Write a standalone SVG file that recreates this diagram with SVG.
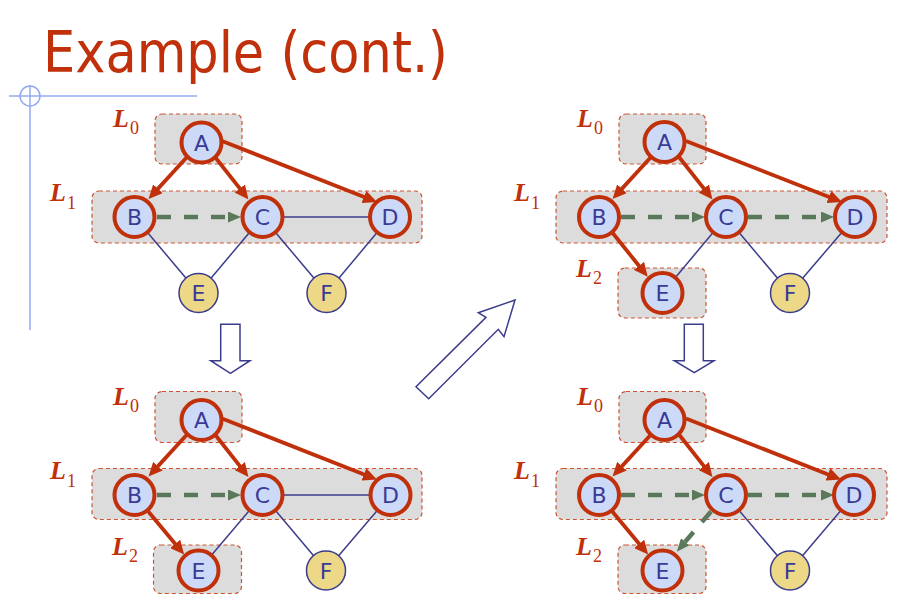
<svg xmlns="http://www.w3.org/2000/svg" width="901" height="602" viewBox="0 0 901 602">
  <defs>
    <style>
      .title { font-family: "DejaVu Sans", Verdana, sans-serif; font-size: 57px; fill: #c0300a; }
      .guide { stroke: #92aaf2; stroke-width: 1.5; fill: none; }
      .level { fill: #dcdcdc; stroke: #cc5530; stroke-width: 1.2; stroke-dasharray: 4 3; }
      .L { font-family: "Liberation Serif", "Times New Roman", serif; fill: #c0300a; font-size: 26px; font-weight: bold; font-style: italic; }
      .sub { font-family: "Liberation Serif", "Times New Roman", serif; fill: #c0300a; font-size: 18px; }
      .tree { stroke: #c0300a; stroke-width: 3.8; fill: none; marker-end: url(#redHead); }
      .cross { stroke: #5a785a; stroke-width: 4.5; fill: none; stroke-dasharray: 14 13; marker-end: url(#greenHead); }
      .plain { stroke: #3c3c8c; stroke-width: 1.5; fill: none; }
      .visited circle { fill: #ccdaf8; stroke: #c0300a; stroke-width: 4; }
      .fresh circle { fill: #ecd886; stroke: #3c3c8c; stroke-width: 1.5; }
      .node text { font-family: "DejaVu Sans", Verdana, sans-serif; font-size: 22px; fill: #3a3a96; text-anchor: middle; }
      .step { fill: #ffffff; stroke: #3c3c8c; stroke-width: 1.5; stroke-linejoin: miter; }
    </style>
    <marker id="redHead" markerUnits="userSpaceOnUse" markerWidth="14" markerHeight="13" refX="5" refY="6.5" orient="auto">
      <path d="M0,0 L14,6.5 L0,13 z" fill="#c0300a"/>
    </marker>
    <marker id="greenHead" markerUnits="userSpaceOnUse" markerWidth="13" markerHeight="11" refX="0" refY="5.5" orient="auto">
      <path d="M0,0 L13,5.5 L0,11 z" fill="#5a785a"/>
    </marker>
  </defs>

  <rect width="901" height="602" fill="#ffffff"/>

  <!-- heading -->
  <text class="title" x="43" y="72" textLength="405" lengthAdjust="spacingAndGlyphs">Example (cont.)</text>

  <!-- corner guide -->
  <g class="guide">
    <line x1="9" y1="96" x2="197" y2="96"/>
    <line x1="30" y1="85" x2="30" y2="330"/>
    <circle cx="30" cy="96" r="10"/>
  </g>

  <!-- step arrows between panels -->
  <polygon class="step" points="220.7,324.3 240,324.3 240,360.7 250,360.7 230.4,373.3 210.7,360.7 220.7,360.7"/>
  <polygon class="step" points="684.3,324.3 703.3,324.3 703.3,360.7 714,360.7 694.3,372.7 674.3,360.7 684.3,360.7"/>
  <polygon class="step" points="515,300 504,336.7 498.3,329.3 428.7,398.7 416,386.7 486,317.3 478.3,312.7"/>

  <!-- panel 1: L0, L1 -->
  <g id="panel1">
    <rect class="level" x="155" y="114" width="87" height="50" rx="7"/>
    <rect class="level" x="92" y="191" width="330" height="52" rx="7"/>
    <text class="L" x="113" y="127">L</text>
    <text class="sub" x="130" y="134">0</text>
    <text class="L" x="50" y="201">L</text>
    <text class="sub" x="67" y="209">1</text>
    <g id="edges1">
      <line class="plain" x1="134.5" y1="217" x2="198.5" y2="293"/>
      <line class="plain" x1="262.5" y1="217" x2="198.5" y2="293"/>
      <line class="plain" x1="262.5" y1="217" x2="326.5" y2="293"/>
      <line class="plain" x1="390" y1="217" x2="326.5" y2="293"/>
      <line class="plain" x1="262.5" y1="217" x2="390" y2="217"/>
      <path class="tree" d="M187,157 L154.6,192.4"/>
      <path class="tree" d="M215,157 L242.9,192.4"/>
      <path class="tree" d="M222,141 L368.6,198.7"/>
      <path class="cross" d="M157,217 L228,217"/>
    </g>
    <g id="p1-A" class="node visited"><circle cx="201.5" cy="142.5" r="20"/><text x="201.5" y="150.5">A</text></g>
    <g id="p1-B" class="node visited"><circle cx="134.5" cy="217" r="20"/><text x="134.5" y="225">B</text></g>
    <g id="p1-C" class="node visited"><circle cx="262.5" cy="217" r="20"/><text x="262.5" y="225">C</text></g>
    <g id="p1-D" class="node visited"><circle cx="390" cy="217" r="20"/><text x="390" y="225">D</text></g>
    <g id="p1-E" class="node fresh"><circle cx="198.5" cy="293" r="19.5"/><text x="198.5" y="301">E</text></g>
    <g id="p1-F" class="node fresh"><circle cx="326.5" cy="293" r="19.5"/><text x="326.5" y="301">F</text></g>
  </g>

  <!-- panel 2: B finished, C -> D checked -->
  <g id="panel2" transform="translate(464,0)">
    <rect class="level" x="155" y="114" width="87" height="50" rx="7"/>
    <rect class="level" x="92" y="191" width="331" height="52" rx="7"/>
    <rect class="level" x="154" y="268" width="88" height="50" rx="7"/>
    <text class="L" x="113" y="127">L</text>
    <text class="sub" x="130" y="134">0</text>
    <text class="L" x="50" y="201">L</text>
    <text class="sub" x="67" y="209">1</text>
    <text class="L" x="112" y="277">L</text>
    <text class="sub" x="129" y="284">2</text>
    <g id="edges2">
      <line class="plain" x1="262" y1="217" x2="198.5" y2="293"/>
      <line class="plain" x1="262" y1="217" x2="326" y2="293"/>
      <line class="plain" x1="391" y1="217" x2="326" y2="293"/>
      <path class="tree" d="M187,157 L154.6,192.4"/>
      <path class="tree" d="M215,157 L242.9,192.4"/>
      <path class="tree" d="M222,141 L369.6,198.7"/>
      <path class="tree" d="M147.7,231.7 L178.1,269.7"/>
      <path class="cross" d="M157,217 L228,217"/>
      <path class="cross" d="M284,217 L357,217"/>
    </g>
    <g id="p2-A" class="node visited"><circle cx="200.5" cy="142" r="20"/><text x="200.5" y="150">A</text></g>
    <g id="p2-B" class="node visited"><circle cx="135" cy="217" r="20"/><text x="135" y="225">B</text></g>
    <g id="p2-C" class="node visited"><circle cx="262" cy="217" r="20"/><text x="262" y="225">C</text></g>
    <g id="p2-D" class="node visited"><circle cx="391" cy="217" r="20"/><text x="391" y="225">D</text></g>
    <g id="p2-E" class="node visited"><circle cx="198.5" cy="293" r="20"/><text x="198.5" y="301">E</text></g>
    <g id="p2-F" class="node fresh"><circle cx="326" cy="293" r="19.5"/><text x="326" y="301">F</text></g>
  </g>

  <!-- panel 3: B -> E discovered -->
  <g id="panel3" transform="translate(0,277.5)">
    <rect class="level" x="155" y="114" width="87" height="51" rx="7"/>
    <rect class="level" x="92" y="191" width="330" height="51" rx="7"/>
    <rect class="level" x="153.5" y="267.5" width="88" height="48.5" rx="7"/>
    <text class="L" x="113" y="127">L</text>
    <text class="sub" x="130" y="134">0</text>
    <text class="L" x="50" y="201">L</text>
    <text class="sub" x="67" y="209">1</text>
    <text class="L" x="112" y="277">L</text>
    <text class="sub" x="129" y="284">2</text>
    <g id="edges3">
      <line class="plain" x1="262.5" y1="217.5" x2="390.5" y2="217.5"/>
      <line class="plain" x1="262.5" y1="217.5" x2="198.5" y2="293"/>
      <line class="plain" x1="262.5" y1="217.5" x2="326" y2="293"/>
      <line class="plain" x1="390.5" y1="217.5" x2="326" y2="293"/>
      <path class="tree" d="M187,157 L154.6,192.4"/>
      <path class="tree" d="M215,157 L242.9,192.4"/>
      <path class="tree" d="M222,141 L368.6,198.7"/>
      <path class="tree" d="M148.3,234 L178.4,270.2"/>
      <path class="cross" d="M157,217.5 L228,217.5"/>
    </g>
    <g id="p3-A" class="node visited"><circle cx="201.5" cy="142.5" r="20"/><text x="201.5" y="150.5">A</text></g>
    <g id="p3-B" class="node visited"><circle cx="134.5" cy="217.5" r="20"/><text x="134.5" y="225.5">B</text></g>
    <g id="p3-C" class="node visited"><circle cx="262.5" cy="217.5" r="20"/><text x="262.5" y="225.5">C</text></g>
    <g id="p3-D" class="node visited"><circle cx="390.5" cy="217.5" r="20"/><text x="390.5" y="225.5">D</text></g>
    <g id="p3-E" class="node visited"><circle cx="198.5" cy="293" r="20"/><text x="198.5" y="301">E</text></g>
    <g id="p3-F" class="node fresh"><circle cx="326" cy="293" r="19.5"/><text x="326" y="301">F</text></g>
  </g>

  <!-- panel 4: C -> E checked -->
  <g id="panel4" transform="translate(464,277.5)">
    <rect class="level" x="155" y="114" width="87" height="51" rx="7"/>
    <rect class="level" x="92" y="191" width="331" height="51" rx="7"/>
    <rect class="level" x="154" y="267.5" width="88" height="48.5" rx="7"/>
    <text class="L" x="113" y="127">L</text>
    <text class="sub" x="130" y="134">0</text>
    <text class="L" x="50" y="201">L</text>
    <text class="sub" x="67" y="209">1</text>
    <text class="L" x="112" y="277">L</text>
    <text class="sub" x="129" y="284">2</text>
    <g id="edges4">
      <line class="plain" x1="262" y1="217.5" x2="326" y2="293"/>
      <line class="plain" x1="390" y1="217.5" x2="326" y2="293"/>
      <path class="tree" d="M187,157 L154.6,192.4"/>
      <path class="tree" d="M215,157 L242.9,192.4"/>
      <path class="tree" d="M222,141 L368.6,198.7"/>
      <path class="tree" d="M148.3,234 L178.4,270.2"/>
      <path class="cross" d="M157,217.5 L228,217.5"/>
      <path class="cross" d="M284,217.5 L357,217.5"/>
      <path class="cross" d="M247,234 L221.2,264.3"/>
    </g>
    <g id="p4-A" class="node visited"><circle cx="200.5" cy="142.5" r="20"/><text x="200.5" y="150.5">A</text></g>
    <g id="p4-B" class="node visited"><circle cx="135" cy="217.5" r="20"/><text x="135" y="225.5">B</text></g>
    <g id="p4-C" class="node visited"><circle cx="262" cy="217.5" r="20"/><text x="262" y="225.5">C</text></g>
    <g id="p4-D" class="node visited"><circle cx="390" cy="217.5" r="20"/><text x="390" y="225.5">D</text></g>
    <g id="p4-E" class="node visited"><circle cx="198.5" cy="293" r="20"/><text x="198.5" y="301">E</text></g>
    <g id="p4-F" class="node fresh"><circle cx="326" cy="293" r="19.5"/><text x="326" y="301">F</text></g>
  </g>
</svg>
